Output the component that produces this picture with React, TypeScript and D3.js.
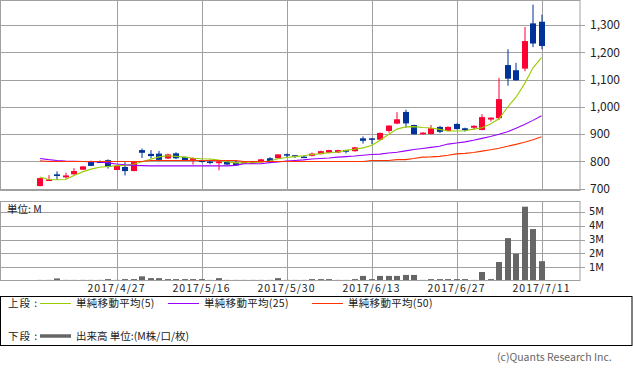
import React, { useEffect, useRef } from 'react';
import * as d3 from 'd3';

const dates = [
  '2017/4/14', '2017/4/17', '2017/4/18', '2017/4/19', '2017/4/20', '2017/4/21', '2017/4/24', '2017/4/25', '2017/4/26', '2017/4/27',
  '2017/4/28', '2017/5/1', '2017/5/2', '2017/5/8', '2017/5/9', '2017/5/10', '2017/5/11', '2017/5/12', '2017/5/15', '2017/5/16',
  '2017/5/17', '2017/5/18', '2017/5/19', '2017/5/22', '2017/5/23', '2017/5/24', '2017/5/25', '2017/5/26', '2017/5/29', '2017/5/30',
  '2017/5/31', '2017/6/1', '2017/6/2', '2017/6/5', '2017/6/6', '2017/6/7', '2017/6/8', '2017/6/9', '2017/6/12', '2017/6/13',
  '2017/6/14', '2017/6/15', '2017/6/16', '2017/6/19', '2017/6/20', '2017/6/21', '2017/6/22', '2017/6/23', '2017/6/26', '2017/6/27',
  '2017/6/28', '2017/6/29', '2017/6/30', '2017/7/3', '2017/7/4', '2017/7/5', '2017/7/6', '2017/7/7', '2017/7/10', '2017/7/11',
];

const opens = [
  709, 729, 752, 741, 752, 769, 797, 799, 804, 768,
  779, 764, 841, 827, 828, 810, 829, 816, 805, 803,
  799, 793, 799, 795, 796, 792, 796, 811, 811, 826,
  822, 817, 820, 826, 831, 832, 841, 837, 884, 884,
  879, 911, 938, 981, 933, 899, 900, 926, 911, 937,
  921, 923, 915, 953, 958, 1153, 1134, 1140, 1306, 1312,
];
const highs = [
  740, 749, 763, 758, 775, 783, 802, 803, 807, 785,
  797, 799, 847, 841, 838, 828, 833, 817, 814, 806,
  806, 801, 801, 804, 798, 800, 809, 815, 826, 828,
  823, 821, 832, 839, 842, 842, 842, 853, 891, 885,
  905, 932, 980, 989, 934, 907, 933, 930, 928, 939,
  923, 932, 973, 961, 1106, 1211, 1161, 1293, 1375, 1338,
];
const lows = [
  707, 728, 732, 736, 750, 768, 782, 795, 773, 767,
  748, 763, 812, 810, 800, 808, 808, 802, 788, 795,
  789, 767, 786, 784, 794, 791, 795, 799, 810, 814,
  812, 814, 818, 825, 829, 830, 829, 835, 865, 863,
  878, 905, 936, 923, 898, 898, 899, 903, 910, 917,
  909, 916, 913, 946, 952, 1077, 1096, 1130, 1219, 1211,
];
const closes = [
  738, 733, 746, 748, 764, 781, 783, 797, 780, 783,
  764, 797, 831, 819, 805, 825, 811, 804, 812, 799,
  795, 799, 788, 785, 797, 799, 807, 800, 825, 821,
  819, 816, 828, 837, 841, 841, 835, 851, 875, 879,
  904, 931, 954, 939, 899, 905, 921, 908, 926, 918,
  914, 930, 962, 960, 1028, 1103, 1097, 1241, 1232, 1223,
];

const ma5 = [
  742, 733, 732, 733, 748, 761, 771, 778, 781, 784,
  785, 789, 798, 807, 816, 820, 818, 815, 811, 809,
  808, 804, 798, 794, 794, 794, 797, 801, 809, 814,
  817, 820, 825, 828, 831, 834, 840, 844, 849, 858,
  877, 898, 918, 926, 927, 924, 922, 917, 911, 911,
  912, 918, 923, 937, 956, 998, 1035, 1084, 1143, 1180,
];
const ma25 = [
  810, 806, 803, 801, 800, 799, 798, 797, 794, 790,
  787, 785, 784, 783, 783, 783, 783, 783, 783, 783,
  783, 783, 783, 785, 791, 791, 791, 795, 797, 801,
  803, 805, 808, 810, 812, 815, 817, 819, 822, 825,
  826, 830, 833, 838, 843, 847, 851, 855, 863, 867,
  871, 877, 884, 891, 899, 908, 921, 935, 950, 967,
];
const ma50 = [
  802, 799, 799, 799, 799, 799, 799, 799, 799, 799,
  799, 799, 799, 803, 803, 803, 803, 803, 803, 803,
  803, 803, 803, 803, 799, 799, 799, 799, 799, 799,
  799, 799, 799, 799, 799, 799, 799, 799, 799, 803,
  803, 803, 806, 806, 810, 815, 816, 818, 822, 827,
  829, 832, 837, 842, 848, 855, 862, 870, 879, 890,
];

// 出来高 (M)
const volumes = [
  0.03, 0.03, 0.2, 0.03, 0.03, 0.03, 0.03, 0.03, 0.15, 0.03,
  0.15, 0.15, 0.35, 0.22, 0.22, 0.15, 0.15, 0.15, 0.15, 0.15,
  0.03, 0.22, 0.03, 0.03, 0.03, 0.03, 0.03, 0.03, 0.22, 0.03,
  0.03, 0.03, 0.15, 0.15, 0.15, 0.03, 0.03, 0.15, 0.38, 0.15,
  0.38, 0.38, 0.38, 0.45, 0.45, 0.03, 0.15, 0.15, 0.15, 0.15,
  0.15, 0.03, 0.66, 0.15, 1.38, 3.1, 1.98, 5.36, 3.75, 1.44,
];

const priceTicks = [700, 800, 900, 1000, 1100, 1200, 1300];
const volumeTicks = [1, 2, 3, 4, 5];
const dateTicks = ['2017/4/27', '2017/5/16', '2017/5/30', '2017/6/13', '2017/6/27', '2017/7/11'];

const legendItems = [
  { label: '単純移動平均(5)', color: '#99cc00' },
  { label: '単純移動平均(25)', color: '#9900ff' },
  { label: '単純移動平均(50)', color: '#ff3300' },
];

const FONT = '"Noto Sans CJK JP", "Noto Sans", sans-serif';

export default function App() {
  const svgRef = useRef<SVGSVGElement | null>(null);

  useEffect(() => {
    if (!svgRef.current) return;
    const svg = d3.select(svgRef.current);
    svg.selectAll('*').remove();

    const left = 0.5;
    const right = 580;
    const main = { top: 0.5, bottom: 190.5 };
    const vol = { top: 201.5, bottom: 280.5 };
    const grid = '#a0a0a0';

    const x = d3.scaleBand<string>().domain(dates).range([35.75, 545.75]);
    const cx = (d: string) => (x(d) ?? 0) + x.bandwidth() / 2;
    const y = d3.scaleLinear().domain([700, 1300]).range([188.5, 25]);
    const yv = d3.scaleLinear().domain([0, 5]).range([281.2, 211.7]);

    svg.append('rect').attr('width', 633).attr('height', 370).attr('fill', '#fff');

    // 上段 grid
    const g = svg.append('g');
    g.selectAll('.hgrid')
      .data(priceTicks)
      .join('line')
      .attr('x1', left).attr('x2', 585)
      .attr('y1', (d) => Math.round(y(d)) + 0.5).attr('y2', (d) => Math.round(y(d)) + 0.5)
      .attr('stroke', grid);
    g.selectAll('.vgrid')
      .data(dateTicks)
      .join('line')
      .attr('x1', (d) => Math.round(cx(d)) + 0.5).attr('x2', (d) => Math.round(cx(d)) + 0.5)
      .attr('y1', main.top).attr('y2', main.bottom)
      .attr('stroke', grid);
    g.append('rect')
      .attr('x', left).attr('y', main.top)
      .attr('width', right - left).attr('height', main.bottom - main.top)
      .attr('fill', 'none').attr('stroke', grid);

    g.selectAll('.plabel')
      .data(priceTicks)
      .join('text')
      .attr('x', 590).attr('y', (d) => y(d)).attr('dy', '0.36em')
      .attr('font-family', FONT).attr('font-size', 12).attr('fill', '#222')
      .text((d) => d3.format(',')(d));

    // ローソク足
    const candles = svg.append('g');
    dates.forEach((d, i) => {
      const up = closes[i] >= opens[i];
      const color = up ? '#ff0033' : '#003399';
      const l = Math.round(cx(d) - 3);
      candles.append('rect')
        .attr('x', l + 2.5).attr('width', 1)
        .attr('y', y(highs[i])).attr('height', Math.max(1, y(lows[i]) - y(highs[i])))
        .attr('fill', color);
      const top = y(Math.max(opens[i], closes[i]));
      const bot = y(Math.min(opens[i], closes[i]));
      candles.append('rect')
        .attr('x', l).attr('width', 6)
        .attr('y', top).attr('height', Math.max(1.5, bot - top))
        .attr('fill', color);
    });

    // 移動平均線
    [ma5, ma25, ma50].forEach((series, k) => {
      const line = d3.line<number>()
        .x((_, i) => cx(dates[i]))
        .y((v) => y(v));
      svg.append('path')
        .attr('d', line(series))
        .attr('fill', 'none')
        .attr('stroke', legendItems[k].color)
        .attr('stroke-width', 1.1);
    });

    // 下段 出来高
    const gv = svg.append('g');
    gv.selectAll('.vh')
      .data(volumeTicks)
      .join('line')
      .attr('x1', left).attr('x2', 585)
      .attr('y1', (d) => Math.round(yv(d)) + 0.5).attr('y2', (d) => Math.round(yv(d)) + 0.5)
      .attr('stroke', grid);
    gv.selectAll('.vv')
      .data(dateTicks)
      .join('line')
      .attr('x1', (d) => Math.round(cx(d)) + 0.5).attr('x2', (d) => Math.round(cx(d)) + 0.5)
      .attr('y1', vol.top).attr('y2', vol.bottom)
      .attr('stroke', grid);
    gv.selectAll('.bar')
      .data(volumes)
      .join('rect')
      .attr('x', (_, i) => Math.round(cx(dates[i]) - 3))
      .attr('width', 6)
      .attr('y', (v) => Math.min(yv(v), vol.bottom - 0.6))
      .attr('height', (v) => Math.max(0.6, vol.bottom - yv(v)))
      .attr('fill', '#666');
    gv.append('rect')
      .attr('x', left).attr('y', vol.top)
      .attr('width', right - left).attr('height', vol.bottom - vol.top)
      .attr('fill', 'none').attr('stroke', grid);
    gv.selectAll('.vlabel')
      .data(volumeTicks)
      .join('text')
      .attr('x', 589).attr('y', (d) => yv(d)).attr('dy', '0.36em')
      .attr('font-family', '"DejaVu Sans", sans-serif').attr('font-size', 10).attr('fill', '#222')
      .text((d) => `${d}M`);
    gv.append('text')
      .attr('x', 7).attr('y', 213)
      .attr('font-family', FONT).attr('font-size', 10.5).attr('fill', '#222')
      .text('単位: M');

    // 日付ラベル
    svg.selectAll('.dlabel')
      .data(dateTicks)
      .join('text')
      .attr('x', (d) => cx(d)).attr('y', 292)
      .attr('text-anchor', 'middle')
      .attr('font-family', FONT).attr('font-size', 10.5).attr('letter-spacing', 1)
      .attr('fill', '#222')
      .text((d) => d);

    // 凡例
    const lg = svg.append('g').attr('font-family', FONT).attr('font-size', 10.5).attr('fill', '#222');
    lg.append('rect')
      .attr('x', 0.5).attr('y', 296.5).attr('width', 631.5).attr('height', 49)
      .attr('fill', 'none').attr('stroke', '#000');
    lg.append('text').attr('x', 8).attr('y', 307).attr('letter-spacing', 1).text('上段 :');
    const itemX = [40, 168, 312];
    legendItems.forEach((it, i) => {
      lg.append('line')
        .attr('x1', itemX[i]).attr('x2', itemX[i] + 31)
        .attr('y1', 303.5).attr('y2', 303.5)
        .attr('stroke', it.color);
      lg.append('text').attr('x', itemX[i] + 36).attr('y', 307).attr('letter-spacing', 0.3).text(it.label);
    });
    lg.append('text').attr('x', 8).attr('y', 340).attr('letter-spacing', 1).text('下段 :');
    lg.append('line')
      .attr('x1', 40).attr('x2', 71).attr('y1', 336).attr('y2', 336)
      .attr('stroke', '#666').attr('stroke-width', 3.5);
    lg.append('text').attr('x', 76).attr('y', 340).text('出来高 単位:(M株/口/枚)');

    svg.append('text')
      .attr('x', 497).attr('y', 361)
      .attr('font-family', FONT).attr('font-size', 10.5).attr('fill', '#666')
      .text('(c)Quants Research Inc.');
  }, []);

  return (
    <svg
      ref={svgRef}
      width={633}
      height={370}
      style={{ position: 'absolute', left: 0, top: 0 }}
    />
  );
}
